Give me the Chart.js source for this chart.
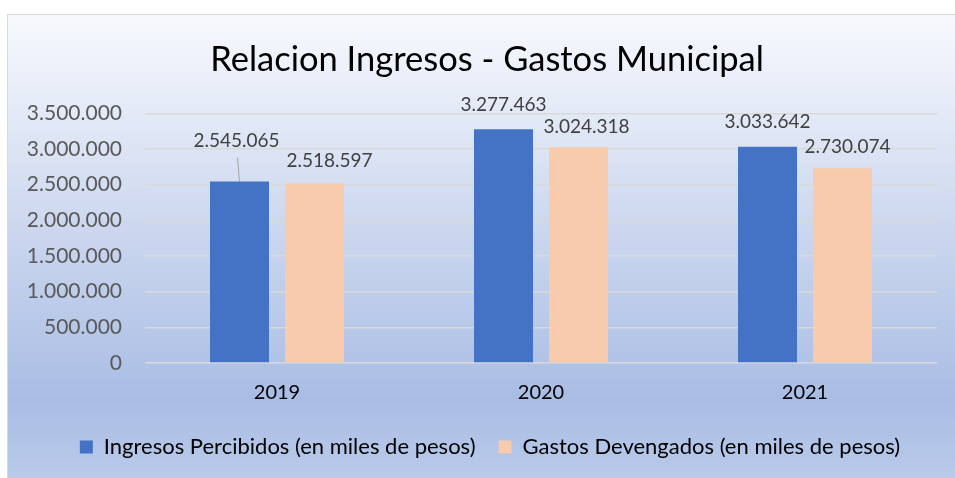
<!DOCTYPE html>
<html>
<head>
<meta charset="utf-8">
<script src="https://cdn.jsdelivr.net/npm/chart.js@4.4.1/dist/chart.umd.min.js"></script>
<style>
  html, body { margin: 0; padding: 0; background: #ffffff; overflow: hidden; }
  #wrap { position: relative; width: 955px; height: 478px; }
</style>
</head>
<body>
<div id="wrap"><canvas id="chart" width="955" height="478"></canvas></div>
<script>
// Data
const years = ['2019', '2020', '2021'];
const ingresos = [2545065, 3277463, 3033642];
const gastos = [2518597, 3024318, 2730074];
const seriesNames = ['Ingresos Percibidos (en miles de pesos)', 'Gastos Devengados (en miles de pesos)'];
const yTicks = [0, 500000, 1000000, 1500000, 2000000, 2500000, 3000000, 3500000];

const FONT = 'Lato, "Open Sans", sans-serif';

// thousands separated with dots
function fmt(v) {
  return String(Math.round(v)).replace(/\B(?=(\d{3})+(?!\d))/g, '.');
}

// Gradient panel behind the chart, like the office chart area
const backgroundPlugin = {
  id: 'panel',
  beforeDraw(chart) {
    const ctx = chart.ctx;
    const x = 7, y = 14, w = chart.width - 7, h = chart.height - 14;
    const g = ctx.createLinearGradient(0, y, 0, y + h);
    g.addColorStop(0, '#f7f9fd');
    g.addColorStop(0.45, '#cdd8ef');
    g.addColorStop(0.83, '#a9bde4');
    g.addColorStop(1, '#b9caea');
    ctx.save();
    ctx.fillStyle = g;
    ctx.fillRect(x, y, w, h);
    ctx.strokeStyle = '#d9d9d9';
    ctx.lineWidth = 1;
    ctx.strokeRect(x + 0.5, y + 0.5, w + 5, h + 5);
    ctx.restore();
  }
};

// Nudge title and legend: the original centres them over the whole panel
const nudgeBlocks = {
  id: 'nudgeBlocks',
  afterLayout(chart, args, opts) {
    const t = chart.titleBlock;
    if (t) { t.left += opts.titleDx; t.right += opts.titleDx; }
    const l = chart.legend;
    if (l) {
      l.left += opts.legendDx; l.right += opts.legendDx;
      l.top += opts.legendDy; l.bottom += opts.legendDy;
    }
  }
};

// Value labels above the bars, with a leader line where a label was moved
const valueLabels = {
  id: 'valueLabels',
  afterDatasetsDraw(chart, args, opts) {
    const ctx = chart.ctx;
    ctx.save();
    ctx.font = opts.font;
    ctx.fillStyle = opts.color;
    ctx.textAlign = 'center';
    ctx.textBaseline = 'middle';
    chart.data.datasets.forEach((ds, di) => {
      const meta = chart.getDatasetMeta(di);
      meta.data.forEach((bar, i) => {
        const shift = opts.shifts[di][i];
        const lx = bar.x + shift[0];
        const ly = bar.y - opts.offset + shift[1];
        ctx.fillText(fmt(ds.data[i]), lx, ly);
        if (shift[1] < -10) {
          ctx.strokeStyle = '#a6a6a6';
          ctx.lineWidth = 1;
          ctx.beginPath();
          ctx.moveTo(lx + 1, ly + 17);
          ctx.lineTo(bar.x, bar.y);
          ctx.stroke();
        }
      });
    });
    ctx.restore();
  }
};

new Chart(document.getElementById('chart').getContext('2d'), {
  type: 'bar',
  data: {
    labels: years,
    datasets: [
      {
        label: seriesNames[0],
        data: ingresos,
        backgroundColor: '#4472c4',
        categoryPercentage: 0.568,
        barPercentage: 0.787
      },
      {
        label: seriesNames[1],
        data: gastos,
        backgroundColor: '#f8cbad',
        categoryPercentage: 0.568,
        barPercentage: 0.787
      }
    ]
  },
  options: {
    responsive: false,
    animation: false,
    devicePixelRatio: 1,
    layout: { padding: { left: 7, right: 18, top: 0, bottom: 0 } },
    plugins: {
      title: {
        display: true,
        text: 'Relacion Ingresos - Gastos Municipal',
        color: '#000000',
        font: { family: FONT, size: 34.5, weight: 'normal' },
        padding: { top: 39, bottom: 33 }
      },
      legend: {
        position: 'bottom',
        labels: {
          boxWidth: 13,
          boxHeight: 13,
          color: '#000000',
          padding: 23,
          font: { family: FONT, size: 22 }
        }
      },
      tooltip: { enabled: false },
      nudgeBlocks: { titleDx: 15, legendDx: 18, legendDy: -10 },
      valueLabels: {
        font: '19px ' + FONT,
        color: '#404040',
        offset: 23,
        shifts: [[[-3, -18], [0, -1], [0, -2]], [[15, 0], [8, 3], [5, 2]]]
      }
    },
    scales: {
      x: {
        grid: { display: false, drawTicks: false },
        border: { display: false },
        ticks: { color: '#000000', padding: 18, font: { family: FONT, size: 20 } }
      },
      y: {
        min: 0,
        max: 3500000,
        afterFit(scale) { scale.width = 138; },
        afterBuildTicks(scale) { scale.ticks = yTicks.map(v => ({ value: v })); },
        grid: { color: '#d9d9d9', lineWidth: 1.5, drawTicks: false },
        border: { display: false },
        ticks: {
          color: '#595959',
          padding: 23,
          font: { family: FONT, size: 21 },
          callback: v => fmt(v)
        }
      }
    }
  },
  plugins: [backgroundPlugin, nudgeBlocks, valueLabels]
});
</script>
</body>
</html>
